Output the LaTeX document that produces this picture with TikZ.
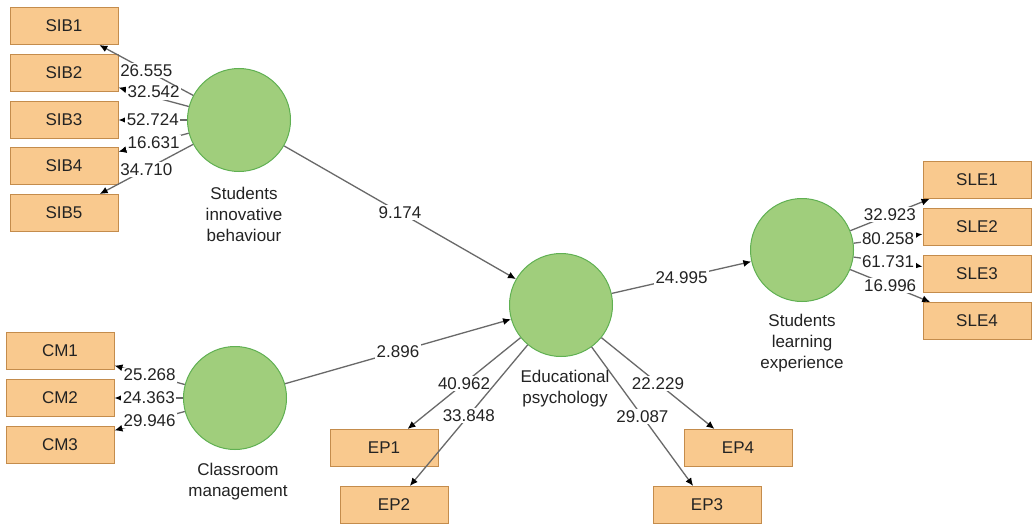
\documentclass[tikz,border=0pt]{standalone}
\usepackage{fontspec}
\setmainfont{Liberation Sans}
\usetikzlibrary{arrows.meta}
\definecolor{boxfill}{RGB}{249,201,142}
\definecolor{boxdraw}{RGB}{196,140,76}
\definecolor{lvfill}{RGB}{160,206,124}
\definecolor{lvdraw}{RGB}{96,176,82}
\definecolor{edgecol}{RGB}{105,105,105}
\definecolor{txt}{RGB}{35,35,35}
\begin{document}
\begin{tikzpicture}[x=1pt,y=-1pt,
  ind/.style={draw=boxdraw, fill=boxfill, line width=1pt, minimum width=108pt, minimum height=37pt, inner sep=0pt, text=txt, font=\fontsize{17}{20}\selectfont},
  lv/.style={circle, draw=lvdraw, fill=lvfill, line width=1pt, minimum size=103pt, inner sep=0pt},
  lvlab/.style={align=center, inner sep=0pt, text=txt, font=\fontsize{17}{21}\selectfont},
  conn/.style={draw=edgecol, line width=1.3pt, -{Latex[length=8pt,width=7pt,color=black]}},
  val/.style={fill=white, inner sep=1.5pt, text=txt, font=\fontsize{17}{20}\selectfont}
]
\useasboundingbox[fill=white] (0,0) rectangle (1032,524);

% latent variables
\node[lv] (sib) at (239,120) {};
\node[lv] (cm)  at (235,398) {};
\node[lv] (ep)  at (561,305) {};
\node[lv] (sle) at (802,250) {};

\node[lvlab] (sibl) at (244,214) {Students\\innovative\\behaviour};
\node[lvlab] (cml)  at (238,482) {Classroom\\management};
\node[lvlab] (epl)  at (565,389) {Educational\\psychology};
\node[lvlab] (slel) at (802,343) {Students\\learning\\experience};

% indicators
\node[ind] (sib1) at (64,26)  {SIB1};
\node[ind] (sib2) at (64,73)  {SIB2};
\node[ind] (sib3) at (64,120) {SIB3};
\node[ind] (sib4) at (64,166) {SIB4};
\node[ind] (sib5) at (64,213) {SIB5};

\node[ind] (cm1) at (60,351) {CM1};
\node[ind] (cm2) at (60,398) {CM2};
\node[ind] (cm3) at (60,445) {CM3};

\node[ind] (ep1) at (384,448) {EP1};
\node[ind] (ep2) at (394,505) {EP2};
\node[ind] (ep3) at (707,505) {EP3};
\node[ind] (ep4) at (738,448) {EP4};

\node[ind] (sle1) at (977,180) {SLE1};
\node[ind] (sle2) at (977,227) {SLE2};
\node[ind] (sle3) at (977,274) {SLE3};
\node[ind] (sle4) at (977,321) {SLE4};

% outer loadings
\draw[conn] (sib) -- node[val] {26.555} (sib1);
\draw[conn] (sib) -- node[val,yshift=5pt] {32.542} (sib2);
\draw[conn] (sib) -- node[val] {52.724} (sib3);
\draw[conn] (sib) -- node[val] {16.631} (sib4);
\draw[conn] (sib) -- node[val] {34.710} (sib5);

\draw[conn] (cm) -- node[val] {25.268} (cm1);
\draw[conn] (cm) -- node[val] {24.363} (cm2);
\draw[conn] (cm) -- node[val] {29.946} (cm3);

\draw[conn] (ep) -- node[val] {40.962} (ep1);
\draw[conn] (ep) -- node[val] {33.848} (ep2);
\draw[conn] (ep) -- node[val] {29.087} (ep3);
\draw[conn] (ep) -- node[val] {22.229} (ep4);

\draw[conn] (sle) -- node[val] {32.923} (sle1);
\draw[conn] (sle) -- node[val] {80.258} (sle2);
\draw[conn] (sle) -- node[val] {61.731} (sle3);
\draw[conn] (sle) -- node[val] {16.996} (sle4);

% structural paths
\draw[conn] (sib) -- node[val] {9.174} (ep);
\draw[conn] (cm) -- node[val] {2.896} (ep);
\draw[conn] (ep) -- node[val] {24.995} (sle);
\end{tikzpicture}
\end{document}
